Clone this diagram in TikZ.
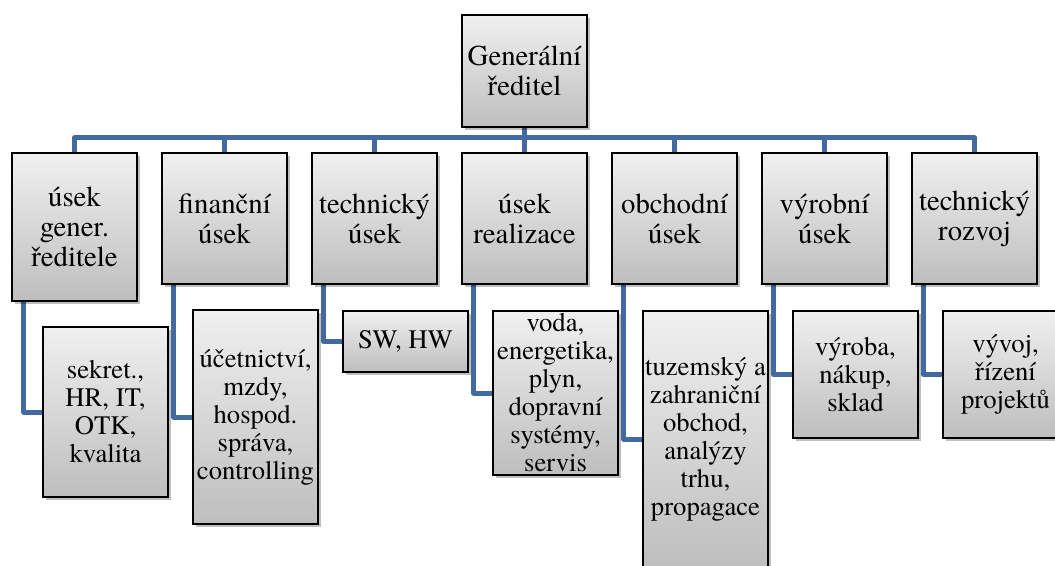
\documentclass[tikz,border=0pt]{standalone}
\usepackage{fontspec}
\setmainfont{texgyretermes-regular.otf}
\usetikzlibrary{shadows,calc,backgrounds}
\definecolor{conncol}{RGB}{66,106,161}
\definecolor{boxtop}{RGB}{240,240,240}
\definecolor{boxbot}{RGB}{190,190,190}
\tikzset{
  orgbox/.style={draw=black, line width=1pt, top color=boxtop, bottom color=boxbot,
    align=center, inner sep=0pt, minimum width=93.75pt,
    drop shadow={shadow xshift=2pt, shadow yshift=-2pt, fill=black, opacity=0.25}},
  bigtext/.style={font=\fontsize{21.6}{22.5}\selectfont},
  smalltext/.style={font=\fontsize{20}{21}\selectfont},
  conn/.style={draw=conncol, line width=3.75pt, line join=round, line cap=butt}
}
\begin{document}
\begin{tikzpicture}[x=0.75pt,y=-0.75pt]
\useasboundingbox (0,0) rectangle (1055,566);
\node[orgbox,bigtext,minimum height=84pt] (g) at (524.5,71) {Generální\\ředitel};
% second row
\node[orgbox,bigtext,minimum height=111pt] (a1) at (74.5,227) {úsek\\gener.\\ředitele};
\node[orgbox,bigtext,minimum height=98.25pt] (a2) at (224.5,218.5) {finanční\\úsek};
\node[orgbox,bigtext,minimum height=98.25pt] (a3) at (374.5,218.5) {technický\\úsek};
\node[orgbox,bigtext,minimum height=98.25pt] (a4) at (524.5,218.5) {úsek\\realizace};
\node[orgbox,bigtext,minimum height=98.25pt] (a5) at (674.5,218.5) {obchodní\\úsek};
\node[orgbox,bigtext,minimum height=98.25pt] (a6) at (824.5,218.5) {výrobní\\úsek};
\node[orgbox,bigtext,minimum height=98.25pt] (a7) at (974.5,218.5) {technický\\rozvoj};
% children
\node[orgbox,smalltext,minimum height=127.5pt] (c1) at (105.5,412) {sekret.,\\HR, IT,\\OTK,\\kvalita};
\node[orgbox,smalltext,minimum height=160.5pt] (c2) at (255.5,417) {účetnictví,\\mzdy,\\hospod.\\správa,\\controlling};
\node[orgbox,smalltext,minimum height=45.75pt] (c3) at (405.5,341.5) {SW, HW};
\node[orgbox,smalltext,minimum height=123pt] (c4) at (555.5,393) {voda,\\energetika,\\plyn,\\dopravní\\systémy,\\servis};
\node[orgbox,smalltext,minimum height=192pt] (c5) at (705.5,439) {tuzemský a\\zahraniční\\obchod,\\analýzy\\trhu,\\propagace};
\node[orgbox,smalltext,minimum height=95.25pt] (c6) at (855.5,374.5) {výroba,\\nákup,\\sklad};
\node[orgbox,smalltext,minimum height=95.25pt] (c7) at (1005.5,374.5) {vývoj,\\řízení\\projektů};
\coordinate (bus) at (524.5,138);
\begin{scope}[on background layer]
  \draw[conn] (g.south) -- (bus);
  \foreach \i in {1,...,7} {
    \draw[conn] (bus) -| (a\i.north);
    \draw[conn] ($(a\i.south west)+(12.5,0)$) |- (c\i.west);
  }
\end{scope}
\end{tikzpicture}
\end{document}
